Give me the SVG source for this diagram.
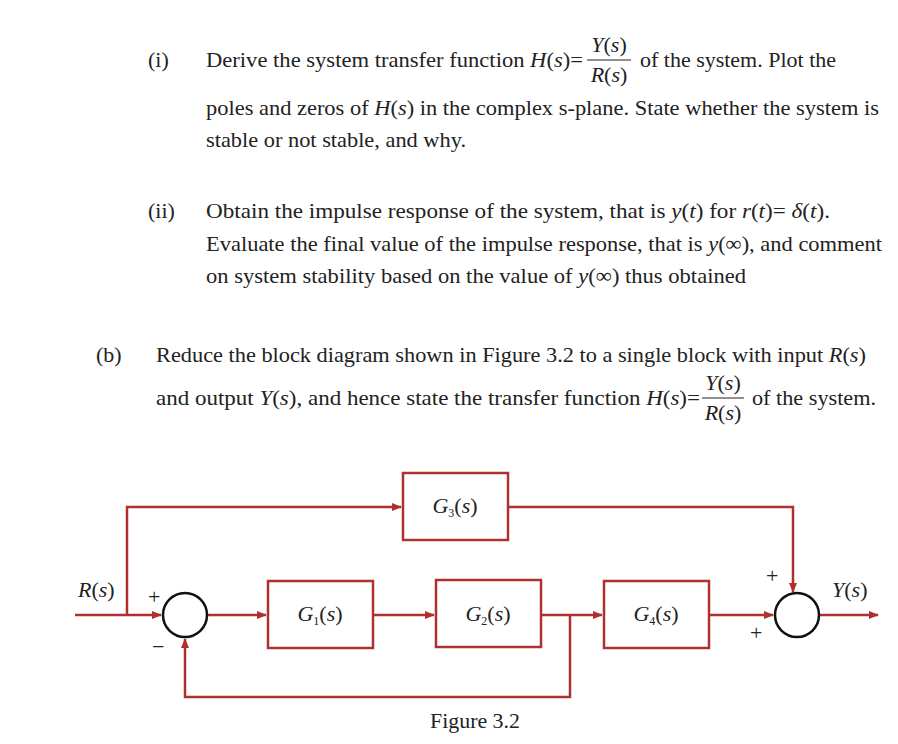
<svg xmlns="http://www.w3.org/2000/svg" width="898" height="744" viewBox="0 0 898 744">
<style>
text{font-family:"Liberation Serif",serif;font-size:22px;fill:#222}
.i{font-style:italic}
.b{fill:none;stroke:#b03030;stroke-width:2.5}
.c{fill:#fff;stroke:#111;stroke-width:2.5}
.w{fill:none;stroke:#b03030;stroke-width:2.5}
</style>
<defs><marker id="a" markerWidth="10" markerHeight="8" refX="9" refY="4" orient="auto" markerUnits="userSpaceOnUse"><path d="M0,0L10,4L0,8z" fill="#b03030"/></marker></defs>
<rect width="898" height="744" fill="#fff"/>
<text x="148" y="67" font-size="20">(i)</text>
<text x="206" y="67" textLength="377" lengthAdjust="spacingAndGlyphs">Derive the system transfer function <tspan class="i">H</tspan>(<tspan class="i">s</tspan>)=</text>
<text x="609" y="52" class="i" text-anchor="middle">Y<tspan font-style="normal">(</tspan>s<tspan font-style="normal">)</tspan></text>
<line x1="587" y1="60" x2="631" y2="60" stroke="#222" stroke-width="1.2"/>
<text x="609" y="82" class="i" text-anchor="middle">R<tspan font-style="normal">(</tspan>s<tspan font-style="normal">)</tspan></text>
<text x="640" y="67" textLength="196" lengthAdjust="spacingAndGlyphs">of the system. Plot the</text>
<text x="206" y="115" textLength="673" lengthAdjust="spacingAndGlyphs">poles and zeros of <tspan class="i">H</tspan>(<tspan class="i">s</tspan>) in the complex s-plane. State whether the system is</text>
<text x="206" y="147" textLength="260" lengthAdjust="spacingAndGlyphs">stable or not stable, and why.</text>
<text x="148" y="218" font-size="20">(ii)</text>
<text x="206" y="218" textLength="624" lengthAdjust="spacingAndGlyphs">Obtain the impulse response of the system, that is <tspan class="i">y</tspan>(<tspan class="i">t</tspan>) for <tspan class="i">r</tspan>(<tspan class="i">t</tspan>)= <tspan class="i">δ</tspan>(<tspan class="i">t</tspan>).</text>
<text x="206" y="251" textLength="676" lengthAdjust="spacingAndGlyphs">Evaluate the final value of the impulse response, that is <tspan class="i">y</tspan>(∞), and comment</text>
<text x="206" y="283" textLength="540" lengthAdjust="spacingAndGlyphs">on system stability based on the value of <tspan class="i">y</tspan>(∞) thus obtained</text>
<text x="96" y="362" font-size="20">(b)</text>
<text x="156" y="362" textLength="710" lengthAdjust="spacingAndGlyphs">Reduce the block diagram shown in Figure 3.2 to a single block with input <tspan class="i">R</tspan>(<tspan class="i">s</tspan>)</text>
<text x="156" y="405" textLength="544" lengthAdjust="spacingAndGlyphs">and output <tspan class="i">Y</tspan>(<tspan class="i">s</tspan>), and hence state the transfer function <tspan class="i">H</tspan>(<tspan class="i">s</tspan>)=</text>
<text x="723" y="390" class="i" text-anchor="middle">Y<tspan font-style="normal">(</tspan>s<tspan font-style="normal">)</tspan></text>
<line x1="702" y1="398" x2="744" y2="398" stroke="#222" stroke-width="1.2"/>
<text x="723" y="420" class="i" text-anchor="middle">R<tspan font-style="normal">(</tspan>s<tspan font-style="normal">)</tspan></text>
<text x="752" y="405" textLength="124" lengthAdjust="spacingAndGlyphs">of the system.</text>
<g id="connectors">
<path class="w" d="M75,615H161" marker-end="url(#a)"/>
<path class="w" d="M127,615V507H401" marker-end="url(#a)"/>
<path class="w" d="M508,507H793V592" marker-end="url(#a)"/>
<path class="w" d="M207,615H266" marker-end="url(#a)"/>
<path class="w" d="M373,615H434" marker-end="url(#a)"/>
<path class="w" d="M541,615H602" marker-end="url(#a)"/>
<path class="w" d="M709,615H773" marker-end="url(#a)"/>
<path class="w" d="M819,615H878" marker-end="url(#a)"/>
<path class="w" d="M570,615V697H185V639" marker-end="url(#a)"/>
</g>
<g id="sum1"><circle class="c" cx="185" cy="615" r="22"/></g>
<g id="sum2"><circle class="c" cx="797" cy="615" r="22"/></g>
<g id="G3"><rect class="b" x="403" y="473" width="105" height="67"/><text x="455" y="513" text-anchor="middle" class="i">G<tspan font-size="12" font-style="normal" dy="4">3</tspan><tspan dy="-4" font-style="normal">(</tspan>s<tspan font-style="normal">)</tspan></text></g>
<g id="G1"><rect class="b" x="268" y="581" width="105" height="67"/><text x="320" y="621" text-anchor="middle" class="i">G<tspan font-size="12" font-style="normal" dy="4">1</tspan><tspan dy="-4" font-style="normal">(</tspan>s<tspan font-style="normal">)</tspan></text></g>
<g id="G2"><rect class="b" x="436" y="580" width="105" height="67"/><text x="488" y="621" text-anchor="middle" class="i">G<tspan font-size="12" font-style="normal" dy="4">2</tspan><tspan dy="-4" font-style="normal">(</tspan>s<tspan font-style="normal">)</tspan></text></g>
<g id="G4"><rect class="b" x="604" y="581" width="105" height="67"/><text x="656" y="621" text-anchor="middle" class="i">G<tspan font-size="12" font-style="normal" dy="4">4</tspan><tspan dy="-4" font-style="normal">(</tspan>s<tspan font-style="normal">)</tspan></text></g>
<text x="78" y="597" class="i">R<tspan font-style="normal">(</tspan>s<tspan font-style="normal">)</tspan></text>
<text x="832" y="597" class="i">Y<tspan font-style="normal">(</tspan>s<tspan font-style="normal">)</tspan></text>
<text x="148" y="604" font-size="14">+</text>
<text x="152" y="654" font-size="14">−</text>
<text x="766" y="583" font-size="14">+</text>
<text x="750" y="640" font-size="14">+</text>
<text x="430" y="728" textLength="90" lengthAdjust="spacingAndGlyphs">Figure 3.2</text>
</svg>
